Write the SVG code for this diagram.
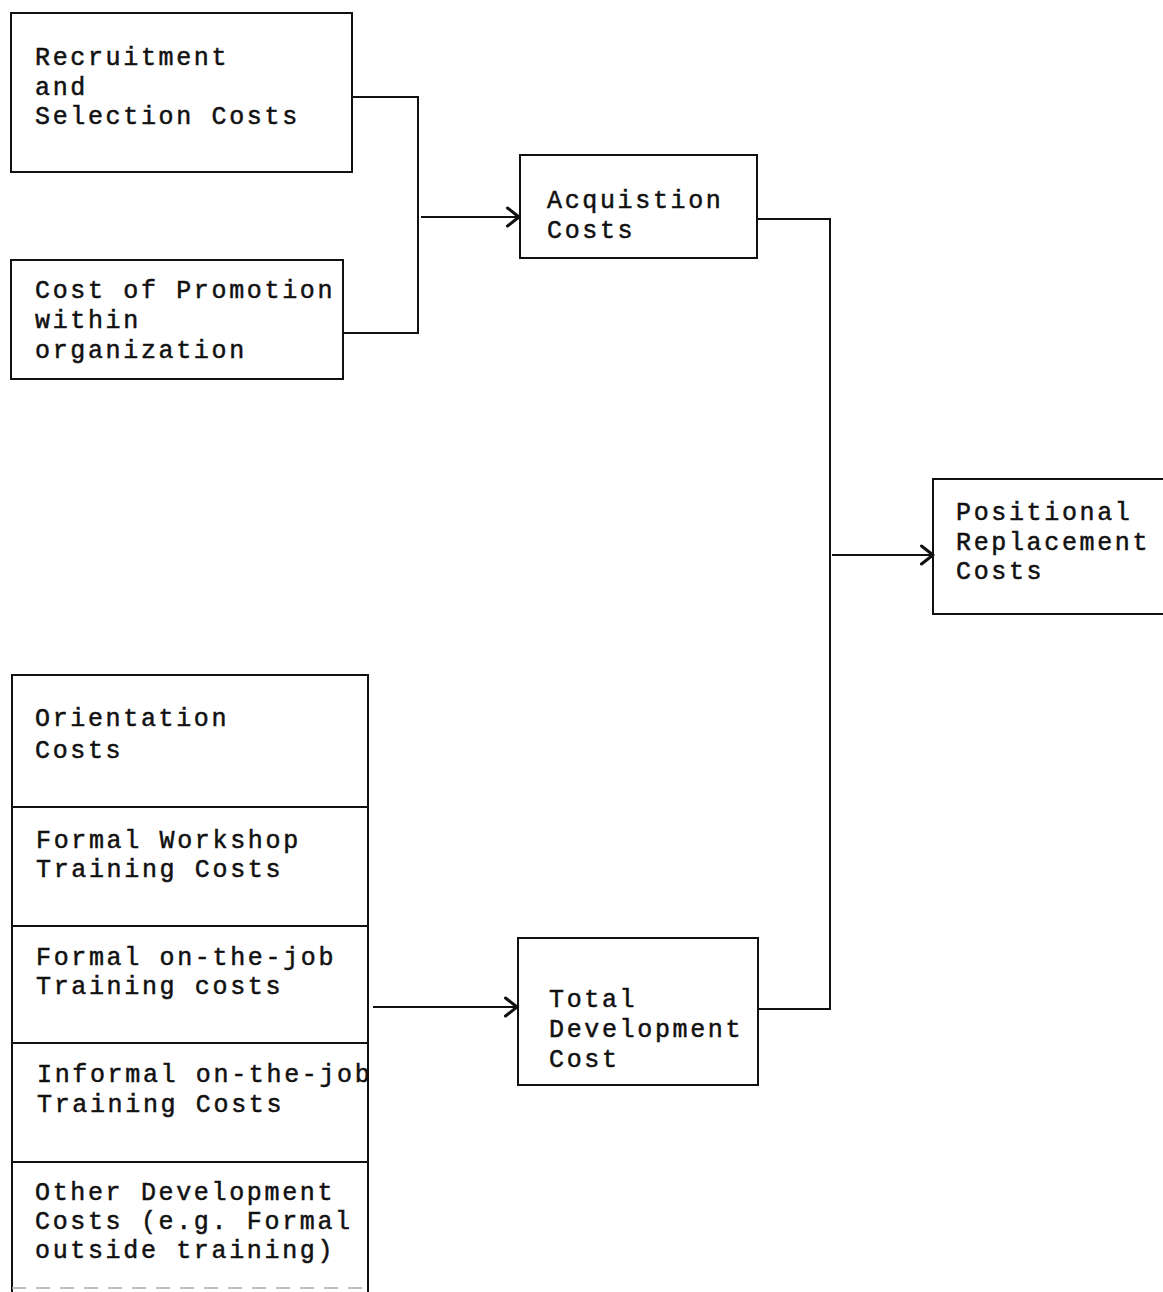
<svg xmlns="http://www.w3.org/2000/svg" width="1163" height="1292" viewBox="0 0 1163 1292">
<style>
.box{fill:none;stroke:#111;stroke-width:2}
.div{fill:none;stroke:#111;stroke-width:2}
.conn{fill:none;stroke:#111;stroke-width:2}
.t{font-family:"Liberation Mono","Courier New",monospace;font-size:25px;letter-spacing:2.65px;fill:#111;stroke:#111;stroke-width:0.5}
</style>
<defs>
<marker id="arr" viewBox="0 0 16 22" refX="14" refY="11" markerWidth="16" markerHeight="22" markerUnits="userSpaceOnUse" orient="auto">
<polyline points="2.5,2 14,11 2.5,20" fill="none" stroke="#111" stroke-width="3" stroke-linecap="round" stroke-linejoin="round"/>
</marker>
</defs>
<rect width="1163" height="1292" fill="#fff"/>
<g id="recruitment">
<rect class="box" x="11" y="13" width="341" height="159"/>
<text class="t" x="35" y="65">Recruitment</text>
<text class="t" x="35" y="95">and</text>
<text class="t" x="35" y="124">Selection Costs</text>
</g>
<g id="promotion">
<rect class="box" x="11" y="260" width="332" height="119"/>
<text class="t" x="35" y="298">Cost of Promotion</text>
<text class="t" x="35" y="328">within</text>
<text class="t" x="35" y="358">organization</text>
</g>
<g id="acquisition">
<rect class="box" x="520" y="155" width="237" height="103"/>
<text class="t" x="547" y="208">Acquistion</text>
<text class="t" x="547" y="238">Costs</text>
</g>
<g id="positional">
<rect class="box" x="933" y="479" width="240" height="135"/>
<text class="t" x="956" y="520">Positional</text>
<text class="t" x="956" y="550">Replacement</text>
<text class="t" x="956" y="579">Costs</text>
</g>
<g id="total-development">
<rect class="box" x="518" y="938" width="240" height="147"/>
<text class="t" x="549" y="1007">Total</text>
<text class="t" x="549" y="1037">Development</text>
<text class="t" x="549" y="1067">Cost</text>
</g>
<g id="development-items">
<path class="box" d="M12,1292 V675 H368 V1292"/>
<line x1="12" y1="1288" x2="368" y2="1288" stroke="#aaa" stroke-width="1.5" stroke-dasharray="14,10"/>
<g id="orientation">
<text class="t" x="35" y="726">Orientation</text>
<text class="t" x="35" y="758">Costs</text>
</g>
<line class="div" x1="12" y1="807" x2="368" y2="807"/>
<g id="workshop">
<text class="t" x="36" y="848">Formal Workshop</text>
<text class="t" x="36" y="877">Training Costs</text>
</g>
<line class="div" x1="12" y1="926" x2="368" y2="926"/>
<g id="formal-ojt">
<text class="t" x="36" y="965">Formal on-the-job</text>
<text class="t" x="36" y="994">Training costs</text>
</g>
<line class="div" x1="12" y1="1043" x2="368" y2="1043"/>
<g id="informal-ojt">
<text class="t" x="37" y="1082">Informal on-the-job</text>
<text class="t" x="37" y="1112">Training Costs</text>
</g>
<line class="div" x1="12" y1="1162" x2="368" y2="1162"/>
<g id="other-development">
<text class="t" x="35" y="1200">Other Development</text>
<text class="t" x="35" y="1229">Costs (e.g. Formal</text>
<text class="t" x="35" y="1258">outside training)</text>
</g>
</g>
<g id="connectors">
<polyline class="conn" points="352,97 418,97 418,333 343,333"/>
<line class="conn" x1="421" y1="217" x2="519" y2="217" marker-end="url(#arr)"/>
<polyline class="conn" points="757,219 830,219 830,1009 758,1009"/>
<line class="conn" x1="832" y1="555" x2="933" y2="555" marker-end="url(#arr)"/>
<line class="conn" x1="373" y1="1007" x2="517" y2="1007" marker-end="url(#arr)"/>
</g>
</svg>
